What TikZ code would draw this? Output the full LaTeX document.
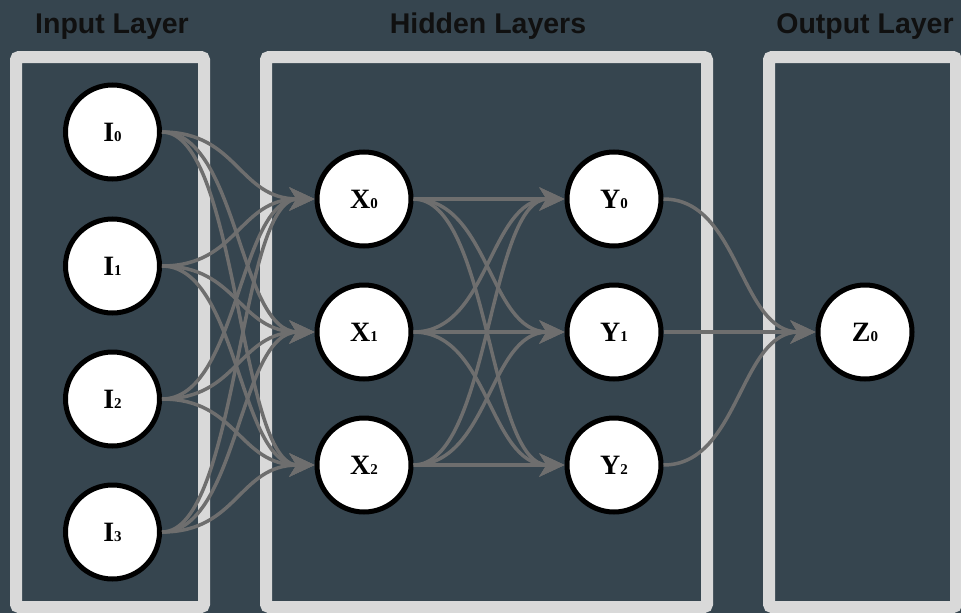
\documentclass[tikz,border=0pt]{standalone}
\usepackage{fontspec}
\setmainfont{Liberation Serif}
\newfontfamily\titlefont{Liberation Sans}
\usetikzlibrary{arrows.meta}
\definecolor{bg}{HTML}{36454F}
\definecolor{framecol}{HTML}{D9D9D9}
\definecolor{edgecol}{HTML}{6E6E6E}
\definecolor{ttl}{HTML}{101010}
\newcommand\nlab[2]{\bfseries\fontsize{28}{28}\selectfont #1\fontsize{15}{15}\selectfont #2}
\begin{document}
\begin{tikzpicture}[x=1pt,y=-1pt,
  neuron/.style={circle, draw=black, line width=5pt, fill=white, minimum size=94pt, inner sep=0pt},
  layerbox/.style={draw=framecol, line width=12pt, rounded corners=3pt},
  title/.style={anchor=base, text=ttl, font=\titlefont\bfseries\fontsize{28.5}{28.5}\selectfont},
  link/.style={draw=edgecol, line width=3.5pt, -{Stealth[length=25pt,width=23pt,inset=7pt]}},
]
\fill[bg] (0,0) rectangle (961,613);
\useasboundingbox (0,0) rectangle (961,613);

% layer boxes
\draw[layerbox] (16,57) rectangle (204,607);
\draw[layerbox] (266,57) rectangle (707,607);
\draw[layerbox] (769,57) rectangle (956,607);

% titles
\node[title] (t1) at (112,33) {Input Layer};
\node[title] (t2) at (488,33) {Hidden Layers};
\node[title] (t3) at (865,33) {Output Layer};

% neurons
\node[neuron] (I0) at (112.5,132) {\nlab{I}{0}};
\node[neuron] (I1) at (112.5,266) {\nlab{I}{1}};
\node[neuron] (I2) at (112.5,399) {\nlab{I}{2}};
\node[neuron] (I3) at (112.5,532) {\nlab{I}{3}};
\node[neuron] (X0) at (364,199) {\nlab{X}{0}};
\node[neuron] (X1) at (364,332) {\nlab{X}{1}};
\node[neuron] (X2) at (364,465) {\nlab{X}{2}};
\node[neuron] (Y0) at (614,199) {\nlab{Y}{0}};
\node[neuron] (Y1) at (614,332) {\nlab{Y}{1}};
\node[neuron] (Y2) at (614,465) {\nlab{Y}{2}};
\node[neuron] (Z0) at (865,332) {\nlab{Z}{0}};

% connections
\foreach \i in {0,1,2,3}{
  \foreach \j in {0,1,2}{
    \draw[link] (I\i.east) .. controls +(76,0) and +(-76,0) .. (X\j.west);
  }
}
\foreach \i in {0,1,2}{
  \foreach \j in {0,1,2}{
    \draw[link] (X\i.east) .. controls +(76,0) and +(-76,0) .. (Y\j.west);
  }
  \draw[link] (Y\i.east) .. controls +(76,0) and +(-76,0) .. (Z0.west);
}
\end{tikzpicture}
\end{document}
